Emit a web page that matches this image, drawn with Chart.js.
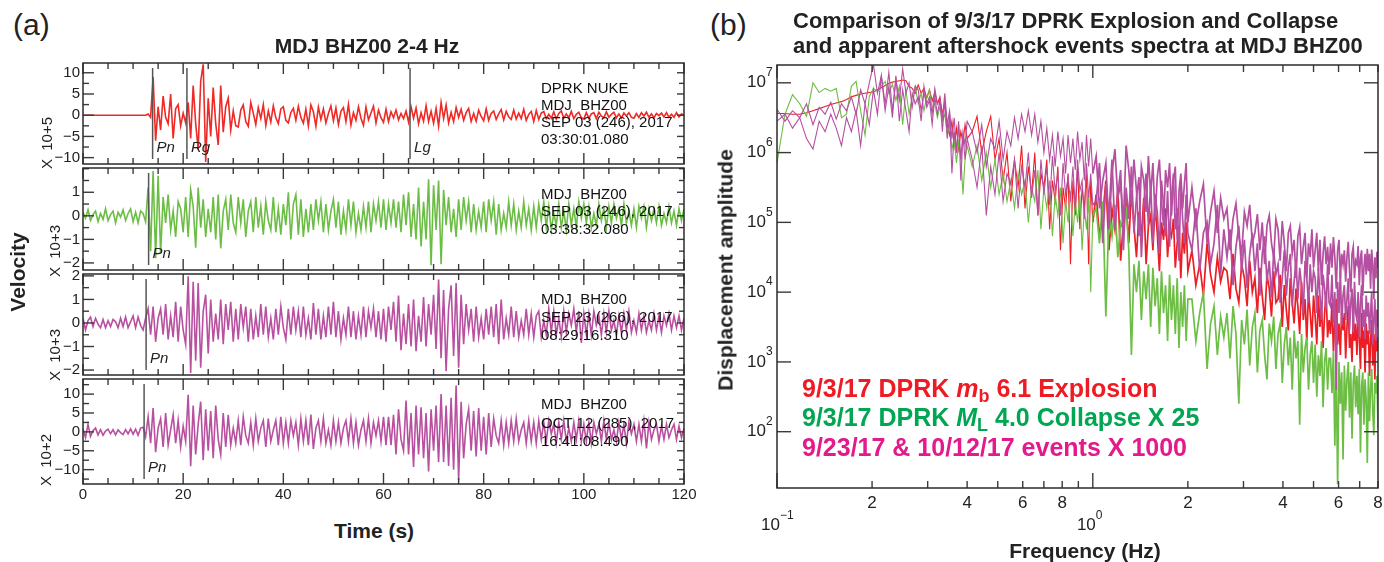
<!DOCTYPE html>
<html>
<head>
<meta charset="utf-8">
<script src="https://cdn.jsdelivr.net/npm/chart.js@4.4.0/dist/chart.umd.min.js"></script>
<style>
  body { margin: 0; background: #fff; }
  #page { position: relative; width: 1384px; height: 562px; overflow: hidden;
          font-family: "Liberation Sans", Arial, sans-serif; color: #222; }
  canvas { position: absolute; }
  .t { position: absolute; white-space: pre; line-height: 1; }
  .b { font-weight: bold; }
  .ctr { transform: translateX(-50%); }
  .rot { position: absolute; white-space: pre; line-height: 1; transform: translate(-50%, -50%) rotate(-90deg); }
  .info { position: absolute; left: 541px; font-size: 15px; line-height: 1; white-space: pre; color: #111; }
  .leg { position: absolute; left: 802px; font-size: 25px; font-weight: bold; line-height: 1; white-space: pre; }
  .leg sub { font-size: 18px; vertical-align: -5px; line-height: 0; }
</style>
</head>
<body>
<div id="page">
  <canvas id="trace1" width="700" height="125" style="left:0;top:51px"></canvas>
  <canvas id="trace2" width="700" height="126" style="left:0;top:156px"></canvas>
  <canvas id="trace3" width="700" height="125" style="left:0;top:262px"></canvas>
  <canvas id="trace4" width="700" height="147" style="left:0;top:367px"></canvas>
  <canvas id="spectra" width="694" height="507" style="left:690px;top:55px"></canvas>

  <div class="t" style="left:13px;top:10px;font-size:30px">(a)</div>
  <div class="t b ctr" style="left:367px;top:35px;font-size:21px">MDJ BHZ00 2-4 Hz</div>
  <div class="rot b" style="left:17px;top:272px;font-size:21px">Velocity</div>
  <div class="t b ctr" style="left:374px;top:520px;font-size:21px">Time (s)</div>

  <div class="rot" style="left:46px;top:143px;font-size:15px">X  10+5</div>
  <div class="rot" style="left:54px;top:251px;font-size:15px">X  10+3</div>
  <div class="rot" style="left:54px;top:355px;font-size:15px">X  10+3</div>
  <div class="rot" style="left:45px;top:460px;font-size:15px">X  10+2</div>

  <div class="info" style="top:80px">DPRK NUKE</div>
  <div class="info" style="top:97px">MDJ  BHZ00</div>
  <div class="info" style="top:114px">SEP 03 (246), 2017</div>
  <div class="info" style="top:131px">03:30:01.080</div>

  <div class="info" style="top:186px">MDJ  BHZ00</div>
  <div class="info" style="top:203px">SEP 03 (246), 2017</div>
  <div class="info" style="top:221px">03:38:32.080</div>

  <div class="info" style="top:291px">MDJ  BHZ00</div>
  <div class="info" style="top:309px">SEP 23 (266), 2017</div>
  <div class="info" style="top:327px">08:29:16.310</div>

  <div class="info" style="top:396px">MDJ  BHZ00</div>
  <div class="info" style="top:415px">OCT 12 (285), 2017</div>
  <div class="info" style="top:433px">16:41:08.490</div>

  <div class="t" style="left:710px;top:10px;font-size:30px">(b)</div>
  <div class="t b" style="left:793px;top:10px;font-size:22px">Comparison of 9/3/17 DPRK Explosion and Collapse</div>
  <div class="t b" style="left:793px;top:35px;font-size:22px">and apparent aftershock events spectra at MDJ BHZ00</div>
  <div class="rot b" style="left:725px;top:270px;font-size:21px">Displacement amplitude</div>
  <div class="t b ctr" style="left:1085px;top:540px;font-size:21px">Frequency (Hz)</div>

  <div class="leg" style="top:376px;color:#ed1c24">9/3/17 DPRK <i>m</i><sub>b</sub> 6.1 Explosion</div>
  <div class="leg" style="top:405px;color:#00a651">9/3/17 DPRK <i>M</i><sub>L</sub> 4.0 Collapse X 25</div>
  <div class="leg" style="top:435px;color:#e3198c">9/23/17 &amp; 10/12/17 events X 1000</div>
</div>

<script>
// ---------- (a) seismograms, one sample every 0.5 s from 0 to 120 s ----------
const sampleStep = 0.5;
const timeTicks = [0, 20, 40, 60, 80, 100, 120];

// DPRK nuke, x 10^5
const nukeTrace = [
  0,0,0,0,0,0,0,0,0,0,0,0,0,0,0,0,0,0,0,0,0,0,0,0,0,0,
  0.3,-0.5,9,-6,2,-3.5,4.5,-0.5,-2,5,-5.5,1.5,2.5,-2.5,0.5,-1.8,
  3,-5.5,7,-2,-8,8,12,-11,4,-5,6.5,-2,-7,7,-4,2,4,-3.5,1,-2.5,
  -2.8,1.2,2.4,-1.5,-2.6,3,0.5,-2.2,1.8,-0.8,2.5,-2.4,1,-1.6,2.2,-0.6,-2,1.5,2,-1.2,
  -1.8,0.6,1.6,-1.2,2.1,-0.5,-1.9,1.4,-2.5,2.4,0.8,-2.6,1.9,-1,1.5,-1.8,0.4,2.2,-1.3,1.7,
  -2.2,0.9,1.8,-1.5,2.5,-2.3,0.6,-1.2,2,-0.7,-2.4,1.9,-1.1,0.5,2.1,-1.8,1.2,-0.6,-1.7,1.4,
  -1.5,0.8,-0.6,1.2,-1.1,0.4,-0.8,1,-1.6,2,-0.7,1.7,-2,0.6,-1.4,2.2,-1.5,0.9,-1.9,1.6,
  -2.6,3,-0.8,2.4,-1.8,0.7,-1.5,1.8,-0.5,1.4,-1.2,0.6,1.6,-1.5,0.4,-1.4,1.2,-0.3,-1.3,1.5,
  -1.2,0.4,1,-1,0.3,1.3,-1.1,0.9,-0.4,-1,1.2,-0.9,0.5,-0.8,1.4,-1.2,0.2,0.9,-1.5,1.1,
  -1,0.5,0.9,-0.8,0.2,-0.7,0.8,-0.9,0.4,1,-0.7,0.3,-0.6,0.9,-0.8,0.2,0.7,-0.6,-0.9,0.6,
  -0.7,0.3,0.6,-0.8,0.7,-0.2,-0.6,0.8,-0.5,0.2,0.7,-0.6,0.3,-0.7,0.5,-0.2,0.6,-0.5,-0.7,0.4,
  -0.5,0.6,-0.2,0.7,-0.5,0.3,-0.6,0.4,-0.1,0.5,-0.4,0.6,-0.5,0.2,-0.5,0.6,-0.4,0.3,0
];

// 9/3 collapse, x 10^3
const collapseTrace = [
  0.15,-0.1,0.25,-0.2,0.05,0.2,-0.25,0.1,-0.15,0.3,-0.2,0.05,0.2,-0.3,0.15,-0.05,0.25,-0.2,0.1,0.3,-0.25,0.15,-0.3,0.2,0.1,-0.25,
  1.2,-1.5,1.9,-1.8,1.7,-1.6,0.8,-0.3,0.9,-0.6,0.2,-0.9,0.6,0.3,-0.7,0.8,
  -0.9,1.1,0.4,-1.35,1.2,-0.5,0.7,-0.9,0.3,-0.7,0.8,-1.0,0.9,-1.38,0.2,0.7,-0.6,0.9,-0.3,-0.7,
  0.8,-0.3,0.7,-0.9,0.2,0.6,-0.7,0.8,-0.5,0.4,-0.8,0.6,-0.2,-0.6,0.8,-0.7,0.3,-0.8,0.5,-0.4,
  1.0,-1.0,0.5,0.9,-0.8,0.7,-0.9,0.3,-0.7,0.5,-0.6,0.7,-0.2,0.6,-0.7,0.5,-0.6,0.2,0.7,-0.5,
  0.6,-0.8,0.2,-0.6,0.7,-0.4,0.6,-0.7,0.1,-0.6,0.4,-0.5,0.6,-0.7,0.5,-0.2,0.6,-0.5,0.7,-0.6,
  0.5,-0.3,0.7,-0.5,0.6,-0.7,0.9,-0.4,1.0,-0.9,0.5,-1.0,1.2,-1.3,0.6,-1.0,1.55,-2.1,1.3,-0.6,
  1.5,-2.05,1.1,-0.4,0.8,-0.7,0.3,-0.9,0.7,-0.6,0.8,-0.2,0.6,-0.7,0.5,-0.6,0.2,-0.5,0.6,-0.7,
  0.7,-0.2,0.6,-0.8,0.5,-0.6,0.1,-0.5,0.6,-0.4,0.5,-0.6,0.2,-0.5,0.6,-0.4,0.3,-0.6,0.4,-0.5,
  0.5,-0.2,0.6,-0.5,0.4,-0.6,0.1,-0.4,0.5,-0.5,0.2,-0.6,0.5,-0.4,0.3,-0.5,0.6,-0.1,0.5,-0.3,
  0.4,-0.5,0.1,-0.4,0.5,-0.2,0.3,-0.5,0.4,-0.3,0.5,-0.1,0.3,-0.4,0.5,-0.3,0.2,-0.4,0.3,-0.5,
  0.4,-0.1,0.4,-0.5,0.3,-0.2,0.3,-0.3,0.4,-0.4,0.1,-0.3,0.4,-0.3,0.2,-0.4,0.3,-0.2,0.3
];

// 9/23 event, x 10^3
const sep23Trace = [
  0.2,-0.3,0.1,0.25,-0.15,0.2,-0.05,-0.2,0.15,-0.2,0.1,-0.15,0.15,0.05,-0.2,0.2,-0.15,0.25,-0.2,0.05,0.3,-0.2,0.25,-0.1,-0.3,0.2,
  0.6,-0.5,0.7,-0.8,0.2,0.6,-0.5,0.8,-0.7,0.3,-0.6,0.9,-0.8,0.7,-0.3,-0.9,
  1.98,-2.12,1.75,-1.6,1.7,-1.9,0.5,1.2,-1.3,1.0,-0.8,0.4,-0.7,1.0,-0.9,0.8,-0.3,0.9,-0.8,0.6,
  -0.7,0.8,-0.2,0.7,-0.8,0.6,-0.7,0.3,-0.6,0.8,-0.5,0.7,-0.6,0.2,-0.7,0.6,-0.5,0.7,-0.2,-0.7,
  0.6,-0.5,0.7,-0.3,0.5,-0.6,0.7,-0.5,0.2,-0.7,0.85,-0.5,0.6,-0.7,0.3,-0.6,0.7,-0.5,0.9,-0.6,
  0.5,-0.7,0.2,-0.5,0.7,-0.6,0.5,-0.7,0.3,-0.5,0.7,-0.6,0.5,-0.2,0.6,-0.6,0.5,-0.7,0.6,-0.8,
  0.7,-0.3,0.9,-0.8,1.16,-1.16,0.4,-0.9,0.8,-1.0,1.0,-1.2,0.3,-0.8,1.1,-1.0,0.8,-0.5,1.2,-1.1,
  1.84,-1.5,1.4,-2.05,0.6,1.6,-1.4,1.7,-1.9,1.2,-0.9,0.8,-0.3,0.6,-0.8,0.7,-0.6,0.2,-0.7,0.6,
  -0.5,0.7,-0.6,0.8,-0.9,1.0,-0.7,0.2,-0.5,0.7,-0.6,0.5,-0.6,0.1,-0.5,0.6,-0.5,0.4,-0.6,0.3,
  0.5,-0.6,0.1,-0.5,0.6,-0.4,0.5,-0.5,0.2,-0.6,0.5,-0.4,0.4,-0.1,0.6,-0.4,0.5,-0.85,0.4,-0.5,
  0.4,-0.5,0.5,-0.1,0.3,-0.5,0.4,-0.4,0.5,-0.3,0.1,-0.5,0.3,-0.4,0.4,-0.3,0.5,-0.4,0.1,-0.4,
  0.4,-0.3,0.3,-0.4,0.1,-0.3,0.4,-0.3,0.3,-0.4,0.3,-0.1,0.4,-0.3,0.3,-0.2,0.3,-0.3,0.2
];

// 10/12 event, x 10^2
const oct12Trace = [
  0.8,-1.5,2,-1.2,0.3,1,-0.8,0.6,-0.9,0.2,0.7,-0.5,0.6,-0.8,0.5,-0.2,-0.7,0.6,-0.5,0.8,-0.6,0.7,-0.9,1,1.2,-1.3,
  4,-3,6.3,-5.4,1,3.5,-4,5,-3.5,0.5,4.5,-3,3,-4,1.5,-2.5,
  9.8,-9.1,7,-6,2,8,-7.5,6,-5,5.5,-7,7,-2,-6,5,-4,4.5,-3.5,1,-3,
  3,-3.5,4,-1,-3,2.5,-3.5,3.5,-2.5,1,3,-4,3.5,-2.5,0.5,3,-3.5,4,-3,2.5,
  -3,3,-1,2.5,-3.5,3.5,-2.5,3,-3.5,4.6,-4.5,1,3,-2.5,3.5,-3,0.5,-3.5,3,-2.5,
  2.5,-3,1,3,-2.5,3.5,-3,2.5,-3.5,0.5,3,-2.5,3.5,-3,2.5,-1,3,-2.5,4,-3.5,
  4,-3.5,4.5,-6,6,-2,-5,8.3,-6,5,-9.3,7,-6,6.5,-7,5,-10.5,6,-5,7,
  -8,10,-8,7,-9,9,-10,12.3,-12.8,8,-7,2,6,-5,5.5,-6.5,6.3,-5,4,-6,
  5,-4,3.5,-1,-3,3,-3.5,2.5,-3,3,-2.5,3.5,-2.5,0.5,2.5,-3,3,-2.5,2.5,-3,
  3,-2,2.5,-2.5,3,-0.5,2,-3,2.5,-2,3,-2.5,1,-2.5,2.5,-2,3,-2.5,2,-2.5,
  2.5,-3,2.5,-0.5,2,-2.5,3,-2,2.5,-2,0.5,-2.5,2.5,-2,2,-3,2.5,-0.5,2,-2.5,
  2,-2.5,3,-4.4,2.5,-2,0.5,2,-2.5,1.5,-2,2,-1.5,0.5,2,-2,1.5,-1.5,1
];

// phase picks (time in s, name)
const nukePicks = [[13.9, "Pn"], [20.75, "Rg"], [65.3, "Lg"]];
const collapsePicks = [[13.1, "Pn"]];
const sep23Picks = [[12.6, "Pn"]];
const oct12Picks = [[12.2, "Pn"]];

// labelled y ticks
const nukeYTicks = [-10, -5, 0, 5, 10];
const collapseYTicks = [-2, -1, 0, 1];
const sep23YTicks = [-2, -1, 0, 1, 2];
const oct12YTicks = [-10, -5, 0, 5, 10];

// ---------- (b) spectra, log10 of displacement amplitude ----------
// frequency sampling: [start Hz, step Hz, count]
const spectrumBands = [[0.1, 0.006, 51], [0.415, 0.015, 40], [1.025, 0.025, 40], [2.06, 0.06, 100]];

const explosionLog = [
  6.56,6.56,6.55,6.55,6.57,6.60,6.63,6.66,6.69,6.71,
  6.73,6.76,6.80,6.82,6.84,6.85,6.86,6.87,6.90,6.93,
  6.96,6.99,7.01,7.02,7.03,7.04,7.03,6.95,6.92,6.85,
  6.97,6.85,6.92,6.78,6.90,6.74,6.86,6.70,6.80,6.55,
  6.72,6.40,6.25,6.45,6.10,6.35,6.05,6.30,6.15,6.40,
  6.20,
  6.30,6.52,6.00,6.30,6.52,5.90,6.20,5.60,6.00,5.30,
  5.90,5.50,6.10,5.20,5.80,5.40,6.00,5.10,5.70,5.50,
  5.90,4.90,5.60,5.30,5.80,4.60,5.50,5.20,5.70,4.40,
  5.60,5.10,5.80,4.90,5.50,5.20,5.70,4.40,5.60,5.00,
  5.40,4.80,5.10,5.60,4.60,5.20,4.90,5.50,4.45,5.00,
  5.30,4.70,5.45,4.95,4.50,5.15,4.80,5.35,4.40,4.95,
  5.10,4.60,5.25,4.85,4.30,5.00,4.75,5.20,4.50,4.90,
  4.80,5.05,4.35,4.70,4.95,4.20,4.85,4.55,5.00,4.30,
  4.60,4.10,4.40,3.95,4.70,4.25,4.00,4.50,4.15,4.35,
  4.30,3.90,4.55,4.05,3.85,4.40,4.20,3.80,4.45,4.00,
  4.20,3.70,4.35,3.95,3.60,4.25,4.05,3.65,4.30,3.85,
  3.90,4.25,3.50,4.10,3.75,3.45,4.20,3.85,3.55,4.05,
  3.80,3.40,4.15,3.60,3.90,3.30,4.00,3.70,3.35,3.95,
  3.65,3.25,3.95,3.50,3.80,3.20,3.70,4.00,3.35,3.60,
  3.40,3.85,3.15,3.60,3.90,3.25,3.55,3.10,3.75,3.45,
  3.70,3.05,3.50,3.80,3.20,3.40,3.00,3.65,3.30,3.55,
  3.10,3.60,3.35,2.90,3.70,3.20,3.45,2.85,3.55,3.25,
  3.45,2.80,3.30,3.60,2.95,3.40,2.75,3.50,3.15,3.35
];

const collapseLog = [
  5.85,6.55,6.83,6.70,6.52,7.00,6.86,6.92,6.88,6.92,
  6.50,6.55,6.95,7.02,6.60,6.25,6.80,6.92,6.88,6.95,
  7.02,6.85,6.98,6.75,6.95,6.40,6.90,6.55,6.80,6.95,
  6.70,6.85,6.60,6.80,6.90,6.62,6.70,6.50,6.65,6.45,
  6.55,6.25,6.40,6.05,6.20,5.85,6.15,5.95,5.40,5.90,
  6.10,
  5.80,6.10,5.60,6.00,5.50,5.90,5.40,5.70,5.30,5.60,
  5.20,5.70,5.40,5.60,5.00,5.50,5.30,5.75,4.90,5.50,
  5.20,5.60,4.80,5.40,5.10,5.50,4.70,5.30,5.00,5.45,
  4.80,5.30,5.00,5.40,4.60,5.20,4.90,5.35,4.00,5.10,
  5.20,4.70,5.30,3.65,5.10,4.80,5.25,4.50,5.00,4.90,
  5.23,4.60,3.10,4.40,4.00,4.45,3.60,4.30,3.90,4.40,
  3.50,4.35,3.80,4.20,3.40,4.30,3.70,4.10,3.30,4.25,
  3.60,4.10,3.40,4.20,3.20,4.00,3.50,4.10,3.30,3.90,
  3.90,3.30,3.70,4.00,2.90,3.55,3.80,3.10,3.65,3.35,
  3.70,3.05,3.80,3.40,2.40,3.60,3.25,3.75,2.95,3.50,
  3.70,2.85,3.45,3.60,3.10,2.75,3.55,3.30,3.65,2.90,
  3.40,3.55,2.70,3.25,3.50,2.95,3.35,2.60,3.45,3.05,
  3.30,2.10,3.40,2.85,3.20,3.35,2.60,3.10,3.30,2.70,
  3.25,2.50,3.10,2.80,3.30,2.35,3.00,3.20,2.60,3.05,
  3.05,2.55,3.15,1.80,2.90,1.25,3.00,2.40,2.85,1.60,
  2.95,2.30,2.75,3.00,2.20,2.85,1.90,2.70,2.95,2.35,
  2.80,2.25,2.90,1.70,2.65,2.85,2.10,2.75,2.45,1.55,
  2.85,2.15,2.60,2.90,2.30,1.95,2.70,2.55,2.80,2.05
];

const sep23Log = [
  6.62,6.45,6.60,6.50,6.70,6.40,6.65,6.55,6.72,6.48,
  6.70,6.60,6.80,6.55,6.90,6.70,7.00,7.26,6.85,7.10,
  6.70,7.15,6.60,7.05,6.75,7.20,6.85,7.00,6.65,6.95,
  6.90,6.60,6.85,6.70,6.80,6.55,6.92,6.70,6.75,6.50,
  6.85,6.40,6.60,6.20,6.50,6.00,6.40,5.90,6.30,6.10,
  6.45,
  6.30,6.00,6.40,5.80,6.20,6.05,6.45,5.90,6.30,6.10,
  6.50,6.20,6.55,6.30,6.60,6.25,6.55,6.15,6.45,6.00,
  6.35,5.90,6.25,5.80,6.30,5.95,6.20,5.70,6.25,5.85,
  6.20,5.75,6.30,5.90,6.15,5.60,6.25,5.80,6.20,5.70,
  5.95,5.20,5.60,5.85,4.90,5.70,6.05,5.35,5.55,5.00,
  6.10,5.75,5.25,5.90,5.45,4.80,5.80,5.60,5.15,5.95,
  5.40,5.85,5.05,5.65,5.90,5.30,4.95,5.75,5.50,5.85,
  5.10,5.60,5.80,4.75,5.45,5.70,5.20,5.55,5.85,5.00,
  5.50,4.95,5.30,5.55,4.70,5.15,5.45,4.85,5.35,5.05,
  5.20,4.60,5.05,5.27,4.80,4.55,5.15,4.95,5.25,4.70,
  4.85,5.12,4.60,5.00,4.40,4.95,5.10,4.70,4.50,5.05,
  4.90,4.45,5.02,4.70,4.30,4.85,4.95,4.55,4.75,4.20,
  4.80,4.93,4.40,4.65,4.85,4.20,4.70,4.50,4.90,4.35,
  4.60,4.85,4.30,4.75,4.10,4.55,4.80,4.40,4.65,4.25,
  4.70,4.35,4.79,4.50,4.05,4.60,4.75,4.20,4.55,4.40,
  4.60,4.15,4.50,4.72,4.30,4.00,4.55,4.65,4.20,4.45,
  4.40,4.66,4.10,4.50,4.60,3.95,4.35,4.55,4.25,4.62,
  4.30,4.55,4.05,4.61,4.40,3.90,4.50,4.20,4.58,4.35
];

const oct12Log = [
  6.45,6.55,6.35,6.50,6.20,6.05,6.45,6.30,6.55,6.35,
  6.10,6.50,6.30,6.60,6.10,6.70,6.40,6.90,6.55,7.10,
  6.60,6.95,6.50,7.10,6.45,6.90,6.60,6.30,6.85,6.70,
  6.80,6.45,6.95,6.65,6.75,6.40,6.80,6.55,6.75,6.30,
  6.75,6.20,6.55,5.70,6.30,6.00,6.45,5.60,6.25,5.90,
  6.20,
  5.90,5.50,6.10,5.10,5.80,5.40,6.00,5.30,5.70,5.55,
  5.90,5.20,5.80,5.50,6.00,5.35,5.75,5.10,5.90,5.40,
  5.80,5.25,5.95,5.45,5.70,5.10,5.85,5.40,5.65,5.30,
  5.80,5.20,5.90,5.45,5.60,5.05,5.85,5.35,5.70,5.25,
  5.30,5.85,4.70,5.55,5.10,5.90,4.90,5.40,5.75,4.60,
  5.50,5.05,5.80,4.85,5.35,5.65,4.50,5.25,5.70,4.95,
  5.55,4.70,5.40,5.15,4.55,5.60,5.25,4.80,5.45,4.65,
  5.35,5.70,4.90,5.20,4.45,5.55,5.05,4.70,5.40,4.85,
  4.60,5.20,4.30,4.85,5.00,4.40,4.70,5.25,4.25,4.90,
  4.50,4.90,4.10,4.65,4.95,4.30,4.75,4.06,4.55,4.85,
  4.30,4.70,3.95,4.55,4.80,4.15,4.45,3.92,4.60,4.25,
  4.40,3.85,4.20,4.60,3.95,4.35,4.55,3.80,4.15,4.45,
  3.90,4.35,4.10,3.70,4.45,4.20,3.85,4.40,4.00,4.30,
  4.20,3.70,4.35,3.95,3.60,4.25,4.05,3.75,4.40,3.85,
  3.80,4.25,3.55,4.00,2.60,4.15,3.70,4.30,3.52,3.95,
  4.10,3.60,3.90,4.20,3.45,3.85,4.05,3.42,4.15,3.70,
  3.60,4.00,3.35,3.85,4.10,3.50,3.75,3.33,3.95,3.65,
  3.85,3.40,3.70,4.00,3.25,3.60,3.90,3.30,3.75,3.50
];

const specXLabels = [[0.2, "2"], [0.4, "4"], [0.6, "6"], [0.8, "8"], [2, "2"], [4, "4"], [6, "6"], [8, "8"]];
const specXMinorTicks = [0.2, 0.3, 0.4, 0.5, 0.6, 0.7, 0.8, 0.9, 2, 3, 4, 5, 6, 7, 8];
const specXDecades = [[0.1, "\u22121"], [1, "0"]];
const specYDecades = [2, 3, 4, 5, 6, 7];

const AXIS = "#2b2b2b";
const TICK_FONT = "'Liberation Sans', Arial, sans-serif";

// frequency grid of the spectra
const spectrumFreqs = spectrumBands.flatMap(([f0, df, n]) =>
  Array.from({ length: n }, (_, i) => +(f0 + i * df).toFixed(3)));

function toSpectrumPoints(logs) {
  return logs.map((v, i) => ({ x: spectrumFreqs[i], y: Math.pow(10, v) }));
}

function seg(ctx, x1, y1, x2, y2) {
  ctx.beginPath();
  ctx.moveTo(x1, y1);
  ctx.lineTo(x2, y2);
  ctx.stroke();
}

// frame, inward ticks and phase picks of a seismogram panel
const seisFrame = {
  id: "seisFrame",
  afterDatasetsDraw(chart, args, opts) {
    const { ctx, chartArea: a } = chart;
    const xs = chart.scales.x, ys = chart.scales.y;
    ctx.save();
    ctx.strokeStyle = "#3a3a3a";
    ctx.lineWidth = 1.4;
    for (let t = 0; t <= 120; t += 5) {
      const px = xs.getPixelForValue(t), len = t % 20 === 0 ? 11 : 6;
      seg(ctx, px, a.top, px, a.top + len);
      seg(ctx, px, a.bottom, px, a.bottom - len);
    }
    const step = opts.minorStep;
    for (let k = Math.ceil(ys.min / step); k * step <= ys.max; k++) {
      const v = +(k * step).toFixed(3);
      const py = ys.getPixelForValue(v), major = opts.yTicks.includes(v);
      seg(ctx, a.left, py, a.left + (major ? 11 : 6), py);
      seg(ctx, a.right, py, a.right - (major ? 7 : 5), py);
    }
    ctx.strokeStyle = "#555";
    ctx.lineWidth = 1.5;
    ctx.fillStyle = "#222";
    ctx.font = "italic 15px " + TICK_FONT;
    ctx.textBaseline = "middle";
    opts.picks.forEach(([t, name]) => {
      const px = xs.getPixelForValue(t);
      seg(ctx, px, a.top + 5, px, a.bottom - 5);
      ctx.fillText(name, px + 4, a.bottom - 16);
    });
    ctx.strokeStyle = AXIS;
    ctx.lineWidth = 1.5;
    ctx.strokeRect(a.left, a.top, a.right - a.left, a.bottom - a.top);
    ctx.restore();
  }
};

function makeTrace(canvasId, trace, color, yMin, yMax, yTicks, minorStep, picks, showTime) {
  const ctx = document.getElementById(canvasId).getContext("2d");
  return new Chart(ctx, {
    type: "line",
    data: {
      datasets: [{
        data: trace.map((v, i) => ({ x: i * sampleStep, y: v })),
        borderColor: color,
        borderWidth: 1.6,
        borderJoinStyle: "miter",
        pointRadius: 0,
        tension: 0
      }]
    },
    options: {
      responsive: false,
      animation: false,
      devicePixelRatio: 1,
      events: [],
      layout: { padding: { top: 10, bottom: showTime ? 0 : 10, left: 0, right: 16 } },
      plugins: {
        legend: { display: false },
        tooltip: { enabled: false },
        seisFrame: { yTicks, minorStep, picks }
      },
      scales: {
        x: {
          type: "linear", min: 0, max: 120, display: showTime,
          grid: { display: false, drawTicks: false }, border: { display: false },
          ticks: { padding: 2, maxRotation: 0, color: "#222", font: { family: TICK_FONT, size: 15 } },
          afterBuildTicks: s => { s.ticks = timeTicks.map(v => ({ value: v })); },
          afterFit: s => { if (showTime) s.height = 30; }
        },
        y: {
          min: yMin, max: yMax,
          grid: { display: false, drawTicks: false }, border: { display: false },
          ticks: {
            padding: 3, color: "#222", font: { family: TICK_FONT, size: 15 },
            callback: v => (v < 0 ? "\u2212" + Math.abs(v) : String(v))
          },
          afterBuildTicks: s => { s.ticks = yTicks.map(v => ({ value: v })); },
          afterFit: s => { s.width = 83; }
        }
      }
    },
    plugins: [seisFrame]
  });
}

makeTrace("trace1", nukeTrace, "#ee2a26", -11.5, 12.3, nukeYTicks, 2.5, nukePicks, false);
makeTrace("trace2", collapseTrace, "#6cbd45", -2.3, 2.03, collapseYTicks, 0.5, collapsePicks, false);
makeTrace("trace3", sep23Trace, "#b8509f", -2.21, 2.08, sep23YTicks, 0.5, sep23Picks, false);
makeTrace("trace4", oct12Trace, "#b8509f", -13.8, 14, oct12YTicks, 2.5, oct12Picks, true);

// frame, log ticks and labels of the spectra panel
const specFrame = {
  id: "specFrame",
  afterDatasetsDraw(chart) {
    const { ctx, chartArea: a } = chart;
    const xs = chart.scales.x, ys = chart.scales.y;
    ctx.save();
    ctx.strokeStyle = "#3a3a3a";
    ctx.lineWidth = 1.4;
    specYDecades.forEach(e => {
      const py = ys.getPixelForValue(Math.pow(10, e));
      seg(ctx, a.left, py, a.left + 14, py);
      seg(ctx, a.right, py, a.right - 14, py);
    });
    specXMinorTicks.forEach(f => {
      const px = xs.getPixelForValue(f);
      seg(ctx, px, a.bottom, px, a.bottom - 7);
      seg(ctx, px, a.top, px, a.top + 7);
    });
    specXDecades.forEach(([f]) => {
      const px = xs.getPixelForValue(f);
      seg(ctx, px, a.bottom, px, a.bottom - 15);
      seg(ctx, px, a.top, px, a.top + 13);
    });
    ctx.strokeStyle = AXIS;
    ctx.lineWidth = 1.5;
    ctx.strokeRect(a.left, a.top, a.right - a.left, a.bottom - a.top);

    ctx.fillStyle = "#222";
    ctx.textBaseline = "middle";
    specYDecades.forEach(e => {
      const py = ys.getPixelForValue(Math.pow(10, e));
      ctx.font = "17px " + TICK_FONT;
      ctx.textAlign = "right";
      ctx.fillText("10", a.left - 11, py);
      ctx.font = "12px " + TICK_FONT;
      ctx.textAlign = "left";
      ctx.fillText(String(e), a.left - 11, py - 10);
    });
    ctx.font = "17px " + TICK_FONT;
    ctx.textAlign = "center";
    specXLabels.forEach(([f, s]) => {
      ctx.fillText(s, xs.getPixelForValue(f), a.bottom + 15);
    });
    specXDecades.forEach(([f, s]) => {
      const px = xs.getPixelForValue(f);
      ctx.font = "17px " + TICK_FONT;
      ctx.textAlign = "right";
      ctx.fillText("10", px + 3, a.bottom + 37);
      ctx.font = "12px " + TICK_FONT;
      ctx.textAlign = "left";
      ctx.fillText(s, px + 3, a.bottom + 28);
    });
    ctx.restore();
  }
};

// thicker strokes where the spectra are densely sampled
const denseSegment = { borderWidth: c => (c.p1.parsed.x > 1 ? 1.7 : 1.1) };

new Chart(document.getElementById("spectra").getContext("2d"), {
  type: "line",
  data: {
    datasets: [
      { label: "9/23/17", data: toSpectrumPoints(sep23Log), borderColor: "#b54fa0", segment: denseSegment },
      { label: "10/12/17", data: toSpectrumPoints(oct12Log), borderColor: "#b54fa0", segment: denseSegment },
      { label: "Collapse", data: toSpectrumPoints(collapseLog), borderColor: "#6dbe45", segment: denseSegment },
      { label: "Explosion", data: toSpectrumPoints(explosionLog), borderColor: "#ee1d24", segment: denseSegment }
    ]
  },
  options: {
    responsive: false,
    animation: false,
    devicePixelRatio: 1,
    events: [],
    elements: { line: { borderWidth: 1.1, tension: 0 }, point: { radius: 0 } },
    layout: { padding: { top: 10, bottom: 74, left: 87, right: 6 } },
    plugins: { legend: { display: false }, tooltip: { enabled: false } },
    scales: {
      x: { type: "logarithmic", min: 0.1, max: 8, display: false },
      y: { type: "logarithmic", min: 15.6, max: 1.8e7, display: false }
    }
  },
  plugins: [specFrame]
});
</script>
</body>
</html>
